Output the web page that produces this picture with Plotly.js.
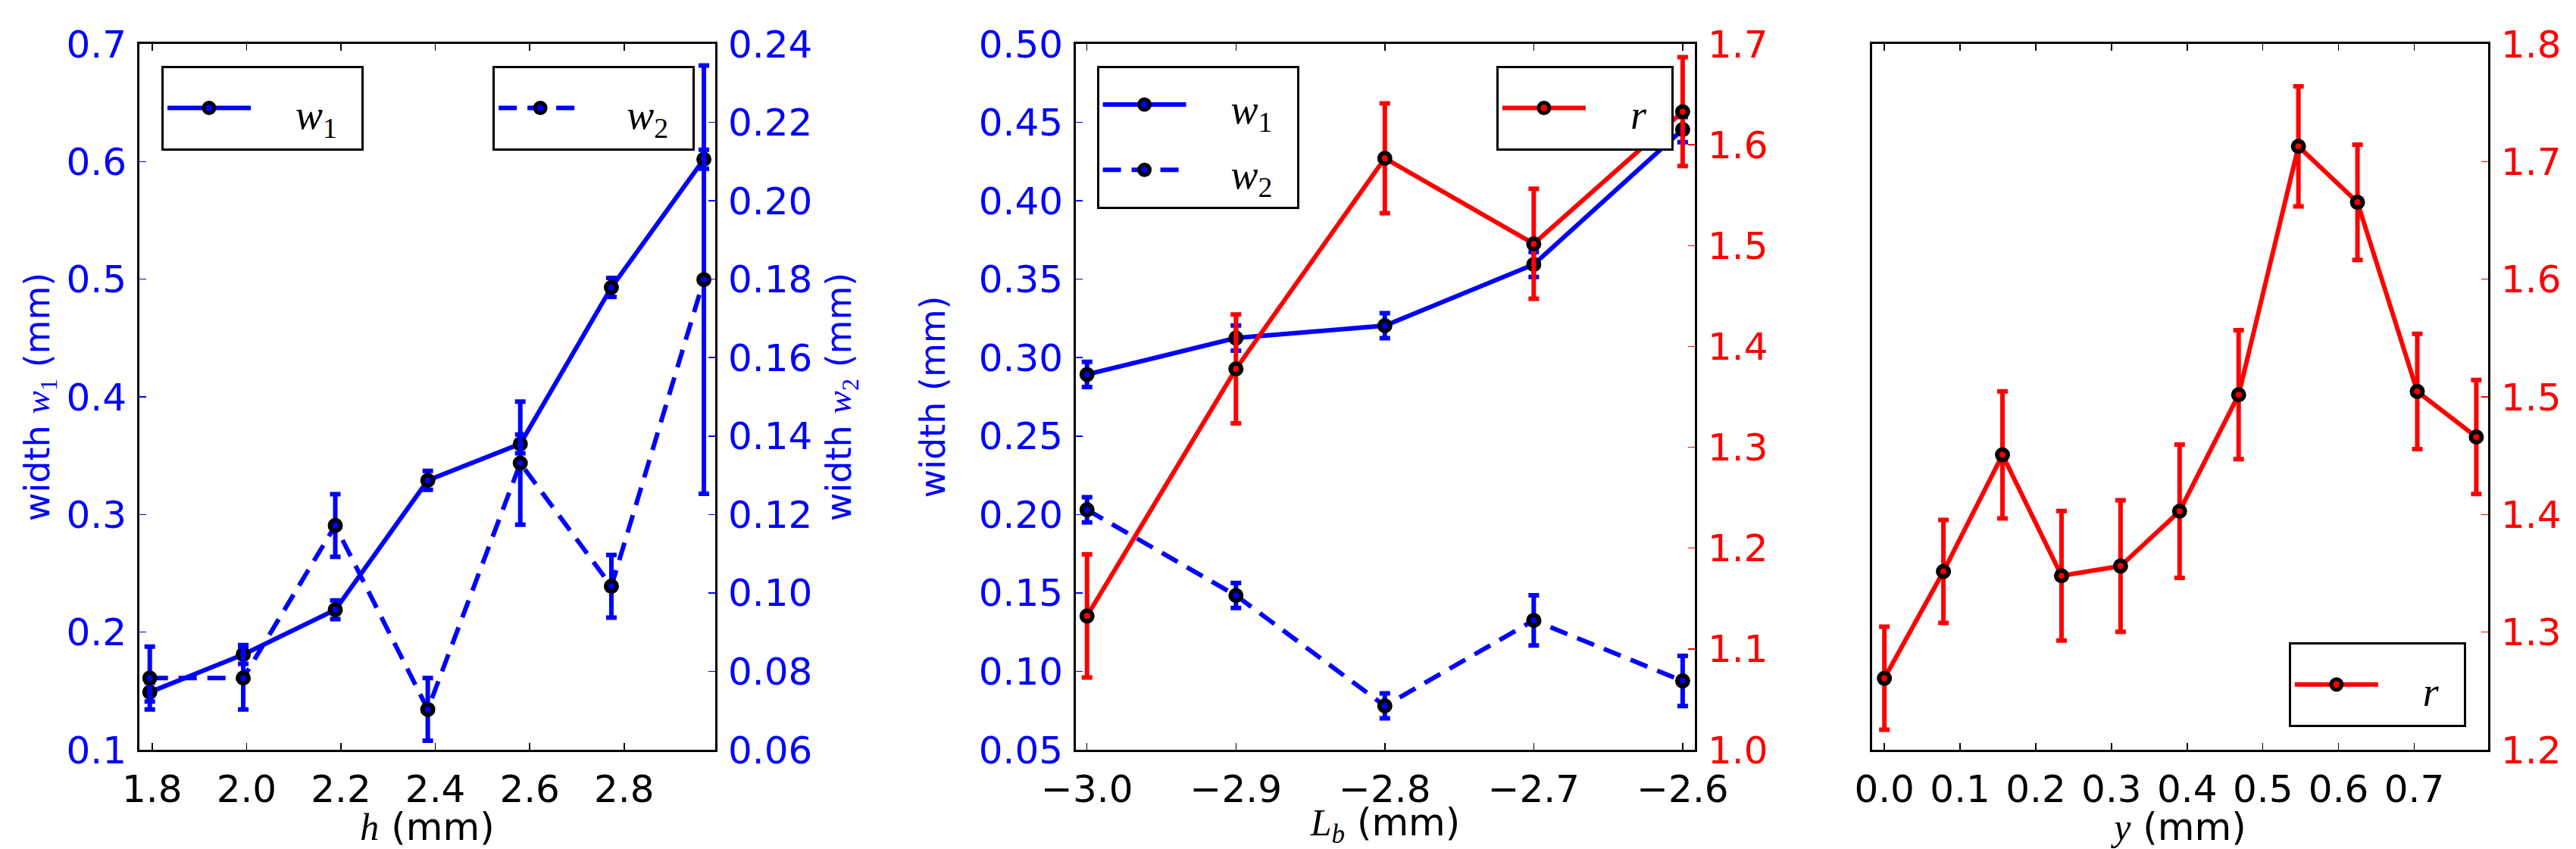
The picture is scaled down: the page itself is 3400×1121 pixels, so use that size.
<!DOCTYPE html>
<html>
<head>
<meta charset="utf-8">
<script src="https://cdn.plot.ly/plotly-3.0.1.min.js"></script>
<style>
  html, body { margin: 0; padding: 0; background: #fff; }
  #chart { width: 3400px; height: 1121px; }
</style>
</head>
<body>
<div id="chart"></div>
<script>
// panel 1: widths vs h
var h = [1.795, 1.993, 2.188, 2.384, 2.580, 2.773, 2.969];
var w1H = [0.149, 0.181, 0.219, 0.329, 0.360, 0.493, 0.602];
var w1HErr = [0.008, 0.008, 0.008, 0.008, 0.008, 0.008, 0.008];
var w2H = [0.0783, 0.0783, 0.1172, 0.0703, 0.1331, 0.1017, 0.1799];
var w2HErr = [0.008, 0.008, 0.008, 0.008, 0.0157, 0.008, 0.0546];

// panel 2: widths and r vs L_b
var lb = [-3.0, -2.9, -2.8, -2.7, -2.6];
var w1L = [0.2893, 0.3125, 0.3204, 0.3594, 0.4454];
var w1LErr = [0.008, 0.008, 0.008, 0.008, 0.008];
var w2L = [0.203, 0.1484, 0.078, 0.1325, 0.0939];
var w2LErr = [0.008, 0.008, 0.008, 0.016, 0.016];
var rL = [1.1327, 1.3777, 1.5866, 1.5018, 1.6328];
var rLErr = [0.061, 0.054, 0.0545, 0.0545, 0.054];

// panel 3: r vs y
var yPos = [0.0, 0.078, 0.156, 0.234, 0.312, 0.390, 0.468, 0.547, 0.625, 0.704, 0.782];
var rY = [1.2608, 1.3516, 1.4507, 1.3479, 1.3562, 1.4028, 1.5018, 1.7129, 1.6654, 1.5046, 1.4659];
var rYErr = [0.0438, 0.0438, 0.054, 0.055, 0.056, 0.0567, 0.0548, 0.051, 0.049, 0.049, 0.0484];

// tick labels
var hTicks = [1.8, 2.0, 2.2, 2.4, 2.6, 2.8];
var w1HTicks = [0.1, 0.2, 0.3, 0.4, 0.5, 0.6, 0.7];
var w2HTicks = [0.06, 0.08, 0.10, 0.12, 0.14, 0.16, 0.18, 0.20, 0.22, 0.24];
var lbTicks = [-3.0, -2.9, -2.8, -2.7, -2.6];
var widthLTicks = [0.05, 0.10, 0.15, 0.20, 0.25, 0.30, 0.35, 0.40, 0.45, 0.50];
var rLTicks = [1.0, 1.1, 1.2, 1.3, 1.4, 1.5, 1.6, 1.7];
var yTicks = [0.0, 0.1, 0.2, 0.3, 0.4, 0.5, 0.6, 0.7];
var rYTicks = [1.2, 1.3, 1.4, 1.5, 1.6, 1.7, 1.8];

var BLUE = '#0000ff';
var RED = '#ff0000';
var SANS = 'DejaVu Sans, sans-serif';
var MATH = 'Liberation Serif, DejaVu Serif, serif';

function series(x, y, err, color, dash, xa, ya, name, legend) {
  return {
    x: x, y: y, xaxis: xa, yaxis: ya, name: name, legend: legend,
    type: 'scatter', mode: 'lines+markers',
    line: { color: color, width: 6, dash: dash },
    marker: { color: color, size: 14, line: { color: '#000', width: 6 } },
    error_y: { type: 'data', array: err, visible: true, color: color, thickness: 6, width: 7 }
  };
}

function mathName(sym, sub) {
  var s = '<span style="font-family:' + MATH + '"><i>' + sym + '</i>';
  if (sub) s += '<sub><i>' + sub + '</i></sub>';
  return s + '</span>';
}
function mathNum(sym, sub) {
  return '<span style="font-family:' + MATH + '"><i>' + sym + '</i><sub>' + sub + '</sub></span>';
}
// legend entry text: padded so the boxes come out as wide as the reference
function legName(inner) {
  return '<span style="font-size:54px">&nbsp;&nbsp;&nbsp;&nbsp;' + inner + '&nbsp;&nbsp;</span>';
}

var DASH = '24px,14px';

var data = [
  series(h, w1H, w1HErr, BLUE, 'solid', 'x', 'y', legName(mathNum('w', '1')), 'legend'),
  series(h, w2H, w2HErr, BLUE, DASH, 'x', 'y2', legName(mathNum('w', '2')), 'legend2'),
  series(lb, w1L, w1LErr, BLUE, 'solid', 'x2', 'y3', legName(mathNum('w', '1')), 'legend3'),
  series(lb, w2L, w2LErr, BLUE, DASH, 'x2', 'y3', legName(mathNum('w', '2')), 'legend3'),
  series(lb, rL, rLErr, RED, 'solid', 'x2', 'y4', legName(mathName('r')), 'legend4'),
  series(yPos, rY, rYErr, RED, 'solid', 'x3', 'y5', legName(mathName('r')), 'legend5')
];

var tickFont = function (c) { return { family: SANS, size: 50, color: c }; };

function xAxis(domain, range, ticks, fmt, anchor, title) {
  return {
    domain: domain, range: range, anchor: anchor,
    tickmode: 'array', tickvals: ticks, tickformat: fmt,
    ticks: 'inside', ticklen: 9, tickwidth: 1.5, tickcolor: '#000',
    showline: true, linecolor: '#000', linewidth: 3, mirror: 'ticks',
    showgrid: false, zeroline: false,
    tickfont: tickFont('#000'), ticklabelstandoff: 6,
    title: { text: title, font: { family: SANS, size: 50, color: '#000' }, standoff: 18 }
  };
}

function yAxis(range, ticks, fmt, anchor, color, title, standoff, extra) {
  var ax = {
    domain: [0, 1], range: range, anchor: anchor,
    tickmode: 'array', tickvals: ticks, tickformat: fmt,
    ticks: 'inside', ticklen: 9, tickwidth: 1.5, tickcolor: color,
    showline: true, linecolor: '#000', linewidth: 3,
    showgrid: false, zeroline: false,
    tickfont: tickFont(color), ticklabelstandoff: 4,
    title: { text: title, font: { family: SANS, size: 46, color: color }, standoff: standoff }
  };
  for (var k in extra) ax[k] = extra[k];
  return ax;
}

// single-entry legends get a taller line so the box height matches
function legendAt(x, y, xanchor, yanchor, lineSize) {
  return {
    bgcolor: '#fff', bordercolor: '#000', borderwidth: 3,
    font: { family: MATH, size: lineSize, color: '#000' },
    itemwidth: 110, itemsizing: 'trace', tracegroupgap: 0,
    x: x, y: y, xanchor: xanchor, yanchor: yanchor, xref: 'paper', yref: 'paper'
  };
}

var layout = {
  width: 3400, height: 1121,
  margin: { l: 184, r: 116, t: 58, b: 131 },
  paper_bgcolor: '#fff', plot_bgcolor: '#fff',
  font: { family: SANS, color: '#000' },
  showlegend: true,

  xaxis: xAxis([0, 0.24516], [1.773, 2.993], hTicks, '.1f', 'y', mathName('h') + ' (mm)'),
  yaxis: yAxis([0.1, 0.7], w1HTicks, '.1f', 'x', BLUE, 'width ' + mathNum('w', '1') + ' (mm)', 8, {}),
  yaxis2: yAxis([0.06, 0.24], w2HTicks, '.2f', 'x', BLUE, 'width ' + mathNum('w', '2') + ' (mm)', 20,
    { overlaying: 'y', side: 'right' }),

  xaxis2: xAxis([0.39871, 0.66226], [-3.0075, -2.5918], lbTicks, '.1f', 'y3', mathName('L', 'b') + ' (mm)'),
  yaxis3: yAxis([0.05, 0.5], widthLTicks, '.2f', 'x2', BLUE, 'width (mm)', 30, {}),
  yaxis4: yAxis([1.0, 1.7], rLTicks, '.1f', 'x2', RED, '', 20, { overlaying: 'y3', side: 'right' }),

  xaxis3: xAxis([0.73774, 1], [-0.0162, 0.7976], yTicks, '.1f', 'y5', mathName('y') + ' (mm)'),
  yaxis5: yAxis([1.2, 1.8], rYTicks, '.1f', 'x3', RED, '', 20, { side: 'right', mirror: true }),

  legend: legendAt(0.00935, 0.969, 'left', 'top', 71),
  legend2: legendAt(0.2365, 0.969, 'right', 'top', 71),
  legend3: legendAt(0.4076, 0.969, 'left', 'top', 64),
  legend4: legendAt(0.6532, 0.969, 'right', 'top', 71),
  legend5: legendAt(0.9906, 0.032, 'right', 'bottom', 71)
};

Plotly.newPlot('chart', data, layout, { displayModeBar: false, staticPlot: true });
</script>
</body>
</html>
